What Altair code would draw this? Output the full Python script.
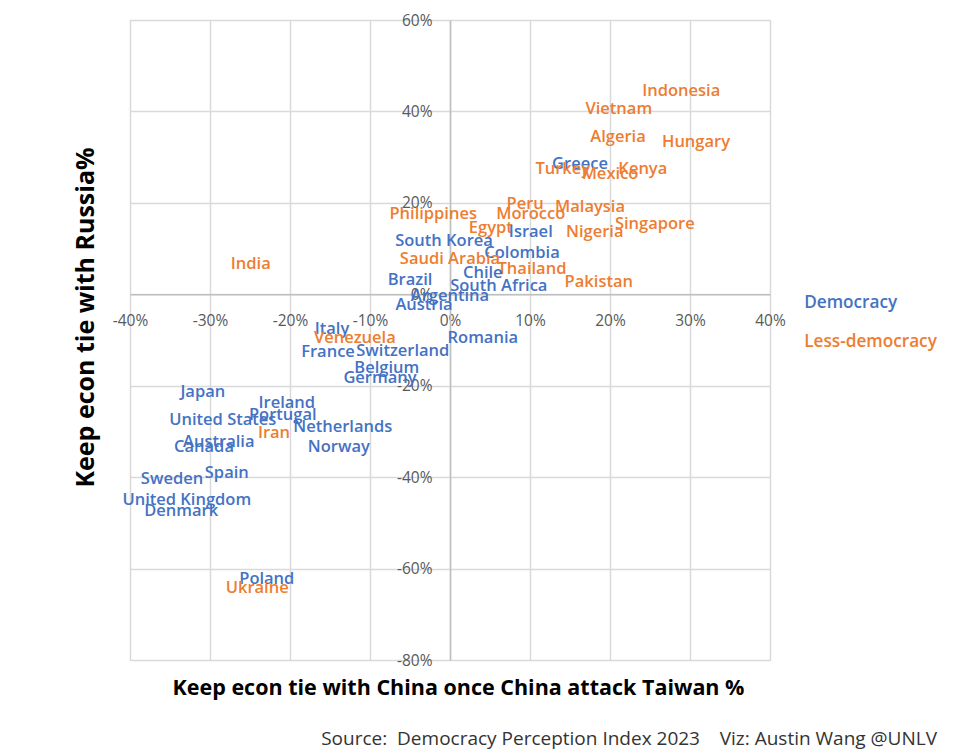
import altair as alt
import pandas as pd

countries = ["Indonesia", "Vietnam", "Algeria", "Hungary", "Greece", "Turkey", "Mexico", "Kenya",
             "Peru", "Malaysia", "Morocco", "Philippines", "Singapore", "Egypt", "Israel", "Nigeria",
             "South Korea", "Colombia", "Saudi Arabia", "Thailand", "Chile", "Brazil", "South Africa",
             "Pakistan", "Argentina", "Austria", "India", "Italy", "Venezuela", "France", "Switzerland",
             "Romania", "Belgium", "Germany", "Japan", "Ireland", "Portugal", "United States",
             "Netherlands", "Iran", "Australia", "Canada", "Norway", "Spain", "Sweden",
             "United Kingdom", "Denmark", "Poland", "Ukraine"]
china = [28.9, 21.1, 21.0, 30.75, 16.25, 14.1, 20.0, 24.1,
         9.4, 17.5, 10.1, -2.1, 25.6, 5.1, 10.1, 18.1,
         -0.75, 9.0, 0.0, 10.25, 4.1, -5.0, 6.1,
         18.6, 0.0, -3.25, -24.9, -14.75, -11.9, -15.25, -5.9,
         4.1, -7.9, -8.75, -30.9, -20.4, -20.9, -28.4,
         -13.4, -22.0, -28.9, -30.75, -13.9, -27.9, -34.75,
         -32.9, -33.6, -22.9, -24.1]
russia = [44.4, 40.5, 34.3, 33.3, 28.4, 27.3, 26.3, 27.3,
          19.7, 19.0, 17.5, 17.5, 15.3, 14.4, 13.6, 13.6,
          11.6, 9.0, 7.7, 5.5, 4.6, 3.1, 1.75,
          2.6, -0.4, -2.4, 6.6, -7.7, -9.6, -12.7, -12.5,
          -9.6, -16.2, -18.4, -21.4, -23.8, -26.5, -27.6,
          -29.1, -30.4, -32.4, -33.5, -33.5, -39.2, -40.3,
          -45.1, -47.5, -62.3, -64.3]
D, L = "Democracy", "Less-democracy"
regime = [L, L, L, L, D, L, L, L,
          L, L, L, L, L, L, D, L,
          D, D, L, L, D, D, D,
          L, D, D, L, D, L, D, D,
          D, D, D, D, D, D, D,
          D, L, D, D, D, D, D,
          D, D, D, L]

x_ticks = [-40, -30, -20, -10, 0, 10, 20, 30, 40]
y_ticks = [-80, -60, -40, -20, 0, 20, 40, 60]
categories = [D, L]
palette = ["#4472C4", "#ED7D31"]

df = pd.DataFrame({"country": countries, "china": china, "russia": russia, "regime": regime})

W, H = 640, 640
font = "Open Sans"
nb = "\u00a0"
source = "Source:" + nb * 2 + "Democracy Perception Index 2023" + nb * 4 + "Viz:" + nb + "Austin Wang @UNLV"

chart = alt.Chart(df).mark_text(font=font, fontSize=16.5, fontWeight=600, align="center",
                                baseline="middle").encode(
    x=alt.X("china:Q",
            scale=alt.Scale(domain=[-40, 40], nice=False, zero=False),
            axis=alt.Axis(values=x_ticks, labelExpr="datum.value + '%'", offset=-H * 80 / 140,
                          title="Keep econ tie with China once China attack Taiwan %",
                          titleX=328, titleY=394, titleBaseline="middle", titleAnchor="middle",
                          titleFontSize=21.5, titleFontWeight="bold", titleFont=font, titleColor="#000000",
                          labelFontSize=15.5, labelFont=font, labelColor="#595959", labelPadding=19,
                          ticks=False, grid=True, gridColor="#D9D9D9", gridWidth=1.5,
                          domainColor="#BFBFBF", domainWidth=1.5, labelFlush=False)),
    y=alt.Y("russia:Q",
            scale=alt.Scale(domain=[-80, 60], nice=False, zero=False),
            axis=alt.Axis(values=y_ticks, labelExpr="datum.value + '%'", offset=-W * 40 / 80,
                          title="Keep econ tie with Russia%",
                          titleX=-365, titleY=297, titleBaseline="middle", titleAnchor="middle",
                          titleAngle=-90, titleAlign="center",
                          titleFontSize=25, titleFontWeight="bold", titleFont=font, titleColor="#000000",
                          labelFontSize=15.5, labelFont=font, labelColor="#595959", labelPadding=18,
                          ticks=False, grid=True, gridColor="#D9D9D9", gridWidth=1.5,
                          domainColor="#BFBFBF", domainWidth=1.5, labelFlush=False)),
    text="country:N",
    color=alt.Color("regime:N",
                    scale=alt.Scale(domain=categories, range=palette),
                    legend=alt.Legend(title=None, orient="none", legendX=673 - 16, legendY=274,
                                      symbolOpacity=0, symbolSize=0, symbolStrokeWidth=0,
                                      labelOffset=0, labelFontSize=17.2, labelFont=font,
                                      labelFontWeight=600, rowPadding=21,
                                      labelColor=alt.ExprRef(expr="datum.value == 'Democracy' ? '#4472C4' : '#ED7D31'"))),
).properties(
    width=W, height=H,
    title=alt.TitleParams(text=source,
                          orient="bottom", anchor="end", frame="bounds", fontSize=19, font=font,
                          fontWeight="normal", color="#333333", offset=31),
    autosize=alt.AutoSizeParams(type="none"),
    padding={"left": 130, "top": 20, "right": 190, "bottom": 90},
).configure_view(stroke=None).configure(background="white")

chart.save("out.html", embed_options={"renderer": "svg", "actions": False})
